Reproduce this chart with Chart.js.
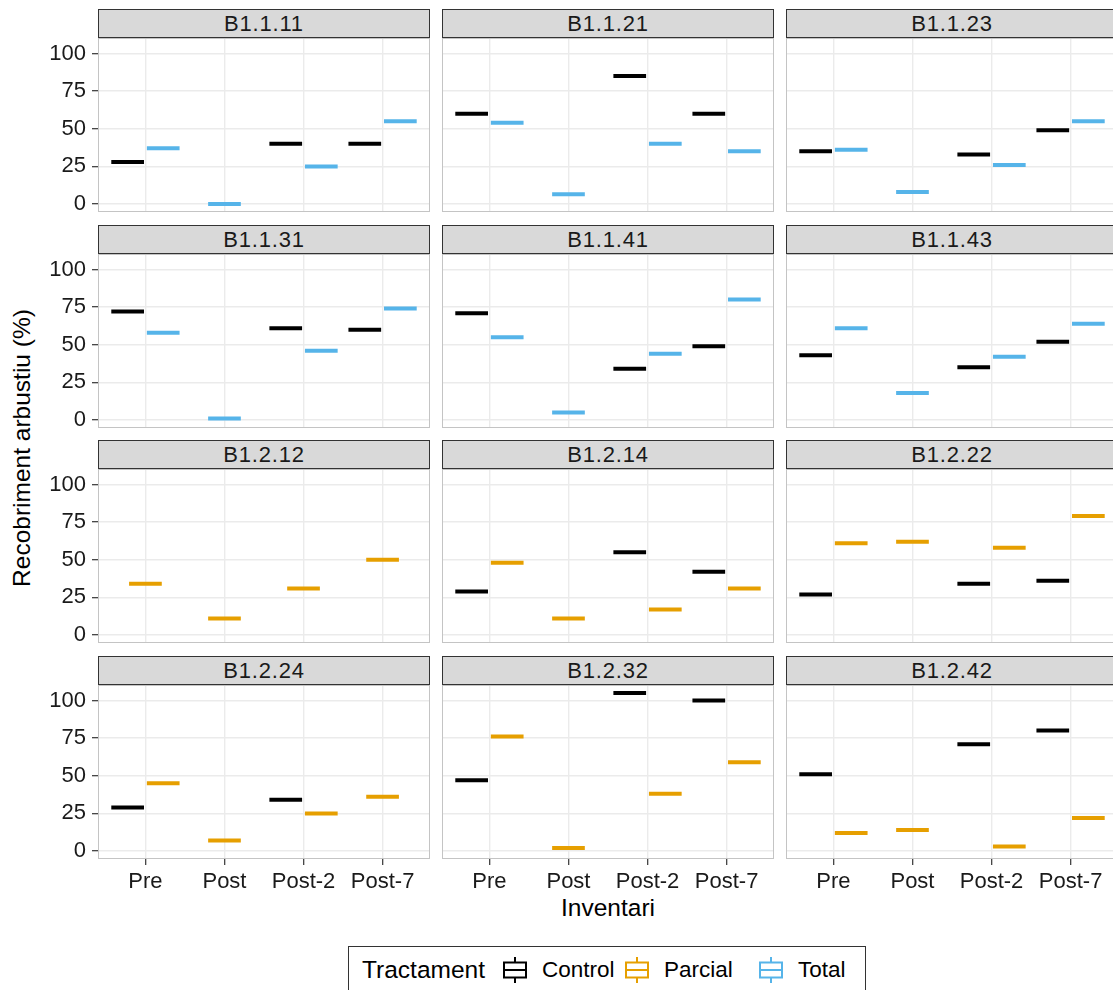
<!DOCTYPE html>
<html>
<head>
<meta charset="utf-8">
<script src="https://cdn.jsdelivr.net/npm/chart.js@4.4.1/dist/chart.umd.min.js"></script>
<style>
  body { margin: 0; background: #fff; width: 1113px; height: 990px; overflow: hidden; position: relative; font-family: "Liberation Sans", Arial, sans-serif; }
  canvas { position: absolute; }
  .strip { position: absolute; box-sizing: border-box; height: 29px; background: #d9d9d9; border: 1px solid #333; text-align: center; font-size: 22px; line-height: 27px; color: #1a1a1a; letter-spacing: 0.8px; }
  #xtitle { position: absolute; left: 98px; width: 1020px; top: 893px; text-align: center; font-size: 24.5px; line-height: 30px; color: #000; }
  #ytitle { position: absolute; left: 22px; top: 448px; transform: translate(-50%, -50%) rotate(-90deg); white-space: nowrap; font-size: 24.5px; color: #000; }
  #legend { position: absolute; left: 348px; top: 946px; width: 518px; height: 70px; box-sizing: border-box; border: 1px solid #333; display: flex; align-items: flex-start; padding: 8px 0 0 13px; }
  #legend .ltitle { font-size: 24.5px; line-height: 30px; width: 138px; white-space: nowrap; }
  #legend .key { width: 30px; height: 30px; margin-right: 12px; }
  #legend .lab { font-size: 22.5px; line-height: 30px; white-space: nowrap; }
</style>
</head>
<body>
<div id="ytitle">Recobriment arbustiu (%)</div>
<div id="xtitle">Inventari</div>
<div id="legend"><span class="ltitle">Tractament</span></div>
<script>
// dades llegides del gràfic (recobriment %, null = sense dada)
const inventaris = ['Pre', 'Post', 'Post-2', 'Post-7'];
const parceles = ['B1.1.11', 'B1.1.21', 'B1.1.23', 'B1.1.31', 'B1.1.41', 'B1.1.43',
                  'B1.2.12', 'B1.2.14', 'B1.2.22', 'B1.2.24', 'B1.2.32', 'B1.2.42'];
const tractaments = ['Control', 'Parcial', 'Total'];
const colors = ['#000000', '#E69F00', '#56B4E9'];

const control = [
  [28, null, 40, 40],
  [60, null, 85, 60],
  [35, null, 33, 49],
  [72, null, 61, 60],
  [71, null, 34, 49],
  [43, null, 35, 52],
  [null, null, null, null],
  [29, null, 55, 42],
  [27, null, 34, 36],
  [29, null, 34, null],
  [47, null, 105, 100],
  [51, null, 71, 80]
];
const parcial = [
  [null, null, null, null],
  [null, null, null, null],
  [null, null, null, null],
  [null, null, null, null],
  [null, null, null, null],
  [null, null, null, null],
  [34, 11, 31, 50],
  [48, 11, 17, 31],
  [61, 62, 58, 79],
  [45, 7, 25, 36],
  [76, 2, 38, 59],
  [12, 14, 3, 22]
];
const total = [
  [37, 0, 25, 55],
  [54, 6.5, 40, 35],
  [36, 8, 26, 55],
  [58, 1, 46, 74],
  [55, 5, 44, 80],
  [61, 18, 42, 64],
  [null, null, null, null],
  [null, null, null, null],
  [null, null, null, null],
  [null, null, null, null],
  [null, null, null, null],
  [null, null, null, null]
];
const yTicks = [0, 25, 50, 75, 100];

const series = [control, parcial, total];
const family = '"Liberation Sans", Arial, sans-serif';

// geometria dels panells
const colLeft = [98, 442, 786];
const plotTop = [38, 254, 469, 685];
const panelW = 332, panelH = 174, yAxisW = 98, xAxisH = 40;
const legendLabW = [80, 92, 60];

const panelBorder = {
  id: 'panelBorder',
  afterDraw(chart) {
    const a = chart.chartArea;
    const ctx = chart.ctx;
    ctx.save();
    ctx.strokeStyle = '#c4c4c4';
    ctx.lineWidth = 1;
    ctx.strokeRect(a.left + 0.5, a.top + 0.5, a.right - a.left - 1, a.bottom - a.top - 1);
    ctx.restore();
  }
};

parceles.forEach((name, i) => {
  const r = Math.floor(i / 3), c = i % 3;
  const left = c === 0 ? 0 : colLeft[c];
  const w = colLeft[c] + panelW - left;
  const h = panelH + (r === 3 ? xAxisH : 0);

  const strip = document.createElement('div');
  strip.className = 'strip';
  strip.textContent = name;
  strip.style.left = colLeft[c] + 'px';
  strip.style.width = panelW + 'px';
  strip.style.top = (plotTop[r] - 29) + 'px';
  document.body.appendChild(strip);

  const canvas = document.createElement('canvas');
  canvas.width = w;
  canvas.height = h;
  canvas.style.left = left + 'px';
  canvas.style.top = plotTop[r] + 'px';
  document.body.appendChild(canvas);

  new Chart(canvas.getContext('2d'), {
    type: 'bar',
    data: {
      datasets: tractaments.map((t, s) => ({
        label: t,
        data: series[s][i].map((v, k) => ({ x: k + 1, y: v === null ? null : [v, v] })),
        backgroundColor: colors[s],
        borderWidth: 0,
        inflateAmount: 2,
        categoryPercentage: 0.9,
        barPercentage: 1,
        maxBarThickness: 28.7,
        skipNull: true
      }))
    },
    options: {
      responsive: false,
      animation: false,
      devicePixelRatio: 1,
      layout: { padding: 0 },
      plugins: { legend: { display: false }, tooltip: { enabled: false } },
      scales: {
        x: {
          type: 'linear',
          min: 0.4,
          max: 4.6,
          offset: false,
          afterBuildTicks: s => { s.ticks = inventaris.map((_, k) => ({ value: k + 1 })); },
          afterFit: s => { s.height = r === 3 ? xAxisH : 0; s.paddingLeft = 0; s.paddingRight = 0; },
          grid: { color: '#ebebeb', lineWidth: 1.4, offset: false, drawTicks: r === 3, tickLength: 6, tickColor: '#333', tickWidth: 1.2 },
          border: { display: false },
          ticks: {
            display: r === 3, autoSkip: false, maxRotation: 0, padding: 4,
            color: '#1a1a1a', font: { family: family, size: 22 },
            callback: v => inventaris[v - 1]
          }
        },
        y: {
          min: -5.25,
          max: 110.25,
          afterBuildTicks: s => { s.ticks = yTicks.map(v => ({ value: v })); },
          afterFit: s => { s.width = c === 0 ? yAxisW : 0; s.paddingTop = 0; s.paddingBottom = 0; },
          grid: { color: '#ebebeb', lineWidth: 1.4, drawTicks: c === 0, tickLength: 6, tickColor: '#333', tickWidth: 1.2 },
          border: { display: false },
          ticks: { display: c === 0, padding: 6, color: '#1a1a1a', font: { family: family, size: 22 } }
        }
      }
    },
    plugins: [panelBorder]
  });
});

// llegenda
const legend = document.getElementById('legend');
tractaments.forEach((t, s) => {
  const col = colors[s];
  const key = document.createElement('span');
  key.className = 'key';
  key.innerHTML = '<svg width="30" height="30" viewBox="0 0 30 30">' +
    '<line x1="15" y1="2" x2="15" y2="7.5" stroke="' + col + '" stroke-width="2"/>' +
    '<line x1="15" y1="22.5" x2="15" y2="28" stroke="' + col + '" stroke-width="2"/>' +
    '<rect x="4" y="7.5" width="22" height="15" fill="#fff" stroke="' + col + '" stroke-width="2"/>' +
    '<line x1="4" y1="15" x2="26" y2="15" stroke="' + col + '" stroke-width="2"/></svg>';
  const lab = document.createElement('span');
  lab.className = 'lab';
  lab.style.width = legendLabW[s] + 'px';
  lab.textContent = t;
  legend.appendChild(key);
  legend.appendChild(lab);
});
</script>
</body>
</html>
